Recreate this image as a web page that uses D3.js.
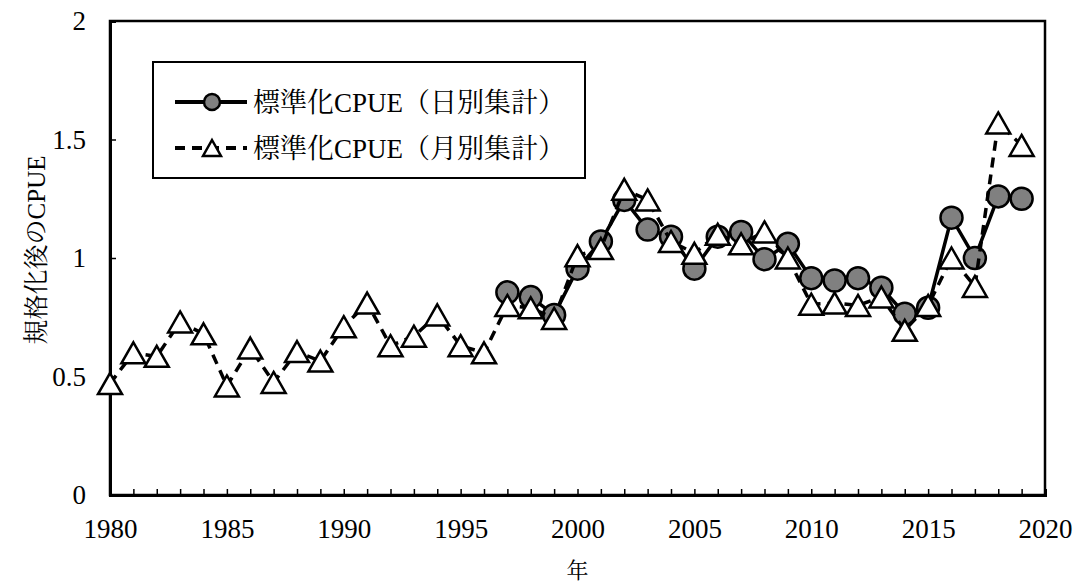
<!DOCTYPE html>
<html>
<head>
<meta charset="utf-8">
<script src="https://cdn.jsdelivr.net/npm/d3@7"></script>
<style>
  body { margin: 0; background: #fff; }
  svg text { font-family: "Liberation Serif", "Noto Serif CJK JP", "Noto Sans CJK JP", serif; fill: #000; }
</style>
</head>
<body>
<div id="chart"></div>
<script>
// 標準化CPUE（日別集計） 1997-2019
const dailyYears = d3.range(1997, 2020);
const dailyValues = [0.855, 0.835, 0.76, 0.955, 1.07, 1.245, 1.12, 1.09, 0.955, 1.09, 1.11, 0.995,
    1.06, 0.915, 0.905, 0.915, 0.875, 0.765, 0.79, 1.17, 1.00, 1.26, 1.25];

// 標準化CPUE（月別集計） 1980-2019
const monthlyYears = d3.range(1980, 2020);
const monthlyValues = [0.47, 0.60, 0.585, 0.73, 0.68, 0.46, 0.62, 0.475, 0.605, 0.565,
    0.71, 0.81, 0.63, 0.67, 0.76, 0.63, 0.60, 0.80, 0.79, 0.745,
    1.01, 1.04, 1.29, 1.245, 1.07, 1.02, 1.10, 1.06, 1.11, 1.00,
    0.805, 0.81, 0.80, 0.835, 0.695, 0.80, 1.00, 0.88, 1.57, 1.475];

const xTicks = d3.range(1980, 2021);
const yTicks = [0, 0.5, 1, 1.5, 2];
const seriesNames = ['標準化CPUE（日別集計）', '標準化CPUE（月別集計）'];

const width = 1078, height = 588;
const margin = {top: 21, right: 33, bottom: 93, left: 110};

const svg = d3.select('#chart').append('svg')
    .attr('width', width)
    .attr('height', height);

const x = d3.scaleLinear().domain([1980, 2020]).range([margin.left, width - margin.right]);
const y = d3.scaleLinear().domain([0, 2]).range([height - margin.bottom, margin.top]);

// plot frame
svg.append('rect')
    .attr('x', x(1980)).attr('y', y(2))
    .attr('width', x(2020) - x(1980)).attr('height', y(0) - y(2))
    .attr('fill', 'none').attr('stroke', '#000').attr('stroke-width', 2.5);

const xAxis = svg.append('g')
    .attr('transform', `translate(0,${y(0)})`)
    .call(d3.axisBottom(x).tickValues(xTicks).tickSize(-6).tickPadding(24)
        .tickFormat(d => d % 5 === 0 ? d : ''));
const yAxis = svg.append('g')
    .attr('transform', `translate(${x(1980)},0)`)
    .call(d3.axisLeft(y).tickValues(yTicks).tickSize(-6).tickPadding(24)
        .tickFormat(d => d));

[xAxis, yAxis].forEach(a => {
    a.attr('font-family', null);
    a.select('.domain').attr('stroke-width', 3);
    a.selectAll('.tick line').attr('stroke-width', 1.5);
    a.selectAll('text').attr('font-size', 27);
});

// axis titles
svg.append('text')
    .attr('x', x(2000)).attr('y', 578)
    .attr('text-anchor', 'middle')
    .attr('font-size', 22)
    .text('年');
svg.append('text')
    .attr('transform', `translate(45,250) rotate(-90)`)
    .attr('text-anchor', 'middle')
    .attr('font-size', 25)
    .text('規格化後のCPUE');

const tri = (w, h) => `M0,${-h / 2}L${w / 2},${h / 2}L${-w / 2},${h / 2}Z`;

const daily = dailyYears.map((yr, i) => ({yr, v: dailyValues[i]}));
const monthly = monthlyYears.map((yr, i) => ({yr, v: monthlyValues[i]}));
const line = d3.line().x(d => x(d.yr)).y(d => y(d.v));

// daily series
svg.append('path').datum(daily)
    .attr('d', line)
    .attr('fill', 'none').attr('stroke', '#000').attr('stroke-width', 3.5);
svg.append('g').selectAll('circle').data(daily).join('circle')
    .attr('cx', d => x(d.yr)).attr('cy', d => y(d.v)).attr('r', 11)
    .attr('fill', '#808080').attr('stroke', '#000').attr('stroke-width', 2.5);

// monthly series
svg.append('path').datum(monthly)
    .attr('d', line)
    .attr('fill', 'none').attr('stroke', '#000').attr('stroke-width', 3.5)
    .attr('stroke-dasharray', '10,7');
svg.append('g').selectAll('path').data(monthly).join('path')
    .attr('transform', d => `translate(${x(d.yr)},${y(d.v)})`)
    .attr('d', tri(24, 21))
    .attr('fill', '#fff').attr('stroke', '#000').attr('stroke-width', 2.5)
    .attr('stroke-linejoin', 'miter');

// legend
const legend = svg.append('g');
legend.append('rect')
    .attr('x', 153).attr('y', 62).attr('width', 432).attr('height', 116)
    .attr('fill', '#fff').attr('stroke', '#000').attr('stroke-width', 2);

const items = legend.selectAll('.item').data(seriesNames).join('g')
    .attr('class', 'item')
    .attr('transform', (d, i) => `translate(0,${102 + i * 46})`);
items.append('line')
    .attr('x1', 175).attr('x2', 247)
    .attr('stroke', '#000').attr('stroke-width', 4)
    .attr('stroke-dasharray', (d, i) => i ? '10,7' : null);
items.filter((d, i) => i === 0).append('circle')
    .attr('cx', 212).attr('r', 8)
    .attr('fill', '#808080').attr('stroke', '#000').attr('stroke-width', 2.5);
items.filter((d, i) => i === 1).append('path')
    .attr('transform', 'translate(212,0)')
    .attr('d', tri(18, 16))
    .attr('fill', '#fff').attr('stroke', '#000').attr('stroke-width', 2.5);
items.append('text')
    .attr('x', 253).attr('dy', '0.36em')
    .attr('font-size', 27)
    .text(d => d);
</script>
</body>
</html>
